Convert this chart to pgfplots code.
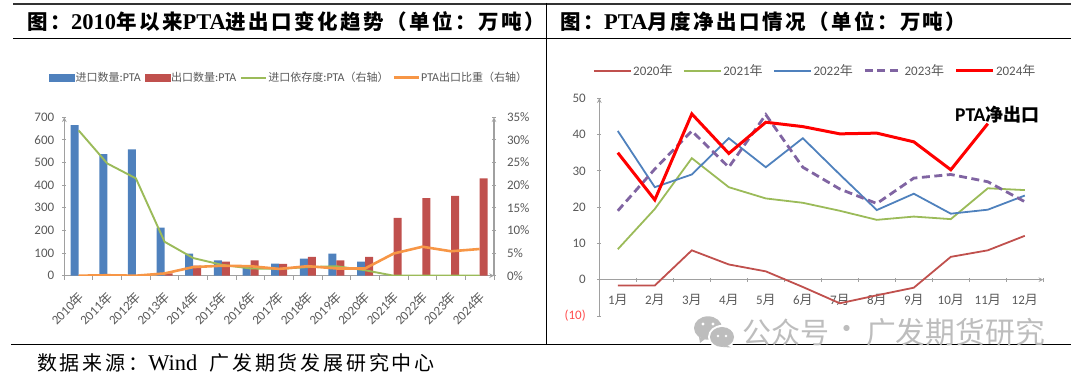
\documentclass[border=0pt]{standalone}
\usepackage{fontspec}
\usepackage{pgfplots}
\pgfplotsset{compat=1.18}
\setmainfont{Carlito}
\newfontfamily\cjk{Noto Sans CJK SC}
\newfontfamily\cjkt[LetterSpace=12]{Noto Sans CJK SC}
\newfontfamily\cjks[LetterSpace=14]{Noto Sans CJK SC}
\newfontfamily\ser{Liberation Serif}
\definecolor{cb}{HTML}{4F81BD}
\definecolor{cr}{HTML}{C0504D}
\definecolor{cg}{HTML}{9BBB59}
\definecolor{co}{HTML}{F79646}
\definecolor{cp}{HTML}{8064A2}
\definecolor{txt}{HTML}{595959}
\definecolor{axc}{HTML}{A0A0A0}
\definecolor{wm}{HTML}{BDBDBD}
\newcommand{\Y}{{\cjk 年}}
\newcommand{\M}{{\cjk 月}}
\newcommand{\LC}[1]{{\cjk\fontsize{11}{11}\selectfont #1}}
\pgfplotstableread{
x imp exp dep share
0 665 0 32.1 0
1 537 0 24.8 0.1
2 558 0 21.5 0
3 212 10 7.5 0.5
4 97 45 3.9 1.9
5 68 62 2.4 2.2
6 40 68 1.6 2.1
7 53 52 1.5 1.5
8 75 83 1.9 2.1
9 97 68 2.1 1.6
10 62 83 1.2 1.6
11 0 256 0 4.9
12 0 343 0 6.4
13 0 353 0 5.4
14 0 430 0 5.9
}\annual
\pgfplotstableread{
m a b c d e
1 -1.6 8.4 41 19 35
2 -1.6 19.5 25.5 30.5 22
3 8.1 33.5 29 41 45.7
4 4.2 25.5 39 31 34.8
5 2.3 22.4 31 45.5 43.4
6 -2 21.2 39 31 42.2
7 -6.5 19 29 25 40.2
8 -4.3 16.5 19.2 21 40.4
9 -2.2 17.4 23.7 28 38
10 6.3 16.7 18.2 29 30.3
11 8.1 25.2 19.3 27 43
12 12.1 24.7 23.2 21.5 nan
}\monthly
\pgfplotsset{
 base/.style={
  scale only axis, anchor=south west,
  /pgf/number format/assume math mode=true,
  axis line style={draw=axc,line width=1.1pt,-},
  tick style={draw=axc,line width=0.9pt},
  tick align=outside, major tick length=4pt, minor tick length=4pt,
  tick label style={font=\fontsize{13}{13}\selectfont,text=txt},
  legend cell align=left,
 },
}
\begin{document}
\begin{tikzpicture}[x=1pt,y=1pt]
\path[use as bounding box] (0,0) rectangle (1080,377);
% left chart
\begin{axis}[base, at={(64.3pt,101.3pt)}, width=429.7pt, height=158.4pt,
  xmin=-0.5, xmax=14.5, ymin=0, ymax=700,
  axis y line=left, axis x line=bottom,
  ytick={0,100,...,700},
  y tick label style={xshift=-4.5pt},
  xtick={0,...,14},
  xticklabels={2010\Y,2011\Y,2012\Y,2013\Y,2014\Y,2015\Y,2016\Y,2017\Y,2018\Y,2019\Y,2020\Y,2021\Y,2022\Y,2023\Y,2024\Y},
  minor xtick={-0.5,0.5,...,14.5},
  major x tick style={draw=none},
  x tick label style={rotate=45,anchor=north east,inner sep=0pt,xshift=-8.5pt,yshift=-6pt,font=\fontsize{13}{13}\selectfont},
  ybar, /pgf/bar width=8pt]
\addplot[fill=cb,draw=none,bar shift=-4pt] table[x=x,y=imp]{\annual};
\addplot[fill=cr,draw=none,bar shift=4pt] table[x=x,y=exp]{\annual};
\end{axis}
\begin{axis}[base, legend image code/.code={\draw[#1] (0pt,0pt) -- (25pt,0pt);},
  at={(64.3pt,101.3pt)}, width=429.7pt, height=158.4pt,
  xmin=-0.5, xmax=14.5, ymin=0, ymax=35,
  axis y line=right, axis x line=none,
  ytick={0,5,...,35},
  y tick label style={xshift=7.5pt},
  yticklabels={0\%,5\%,10\%,15\%,20\%,25\%,30\%,35\%},
  legend columns=-1,
  legend style={at={(-0.0356,1.25)},anchor=west,draw=none,fill=none,inner sep=0pt,
    font=\fontsize{12}{12}\selectfont,text=txt,
    /tikz/every even column/.append style={column sep=3pt},
    nodes={inner sep=1pt}}]
\addlegendimage{legend image code/.code={\fill[cb] (0pt,-3.3pt) rectangle (25pt,3.3pt);}}
\addlegendentry{\LC{进口数量}:PTA}
\addlegendimage{legend image code/.code={\fill[cr] (0pt,-3.3pt) rectangle (25pt,3.3pt);}}
\addlegendentry{\LC{出口数量}:PTA}
\addplot[cg,line width=1.9pt] table[x=x,y=dep]{\annual};
\addlegendentry{\LC{进口依存度}:PTA\LC{（右轴）}}
\addplot[co,line width=2.6pt] table[x=x,y=share]{\annual};
\addlegendentry{PTA\LC{出口比重（右轴）}}
\end{axis}
% right chart
\begin{axis}[base, legend image code/.code={\draw[#1] (0pt,0pt) -- (37pt,0pt);},
  at={(599.3pt,61pt)}, width=444pt, height=217.7pt,
  xmin=0.5, xmax=12.5, ymin=-10, ymax=50,
  axis y line=left, axis x line=middle,
  hide obscured y ticks=false, hide obscured x ticks=false,
  ytick={-10,0,...,50},
  y tick label style={xshift=-8pt},
  yticklabels={\textcolor{red!70!white}{(10)},0,10,20,30,40,50},
  xtick={1,...,12},
  xticklabels={1\M,2\M,3\M,4\M,5\M,6\M,7\M,8\M,9\M,10\M,11\M,12\M},
  minor xtick={0.5,1.5,...,12.5},
  major x tick style={draw=none},
  x tick label style={anchor=center,yshift=-18pt},
  clip=false,
  legend columns=-1,
  legend style={at={(-0.0149,1.1268)},anchor=west,draw=none,fill=none,inner sep=0pt,
    font=\fontsize{13}{13}\selectfont,text=txt,
    /tikz/every even column/.append style={column sep=9pt},
    nodes={inner sep=1.5pt}}]
\addplot[cr,line width=1.8pt] table[x=m,y=a]{\monthly};
\addlegendentry{2020\Y}
\addplot[cg,line width=1.8pt] table[x=m,y=b]{\monthly};
\addlegendentry{2021\Y}
\addplot[cb,line width=1.8pt] table[x=m,y=c]{\monthly};
\addlegendentry{2022\Y}
\addplot[cp,line width=2.8pt,dash pattern=on 8pt off 4.5pt] table[x=m,y=d]{\monthly};
\addlegendentry{2023\Y}
\addplot[red,line width=3pt,line join=miter] table[x=m,y=e]{\monthly};
\addlegendentry{2024\Y}
\end{axis}
% frame
\draw[line width=2pt,black!80] (13,373.3) -- (1071,373.3);
\draw[line width=1.3pt,black] (13,338.7) -- (1071,338.7);
\draw[line width=1.3pt,black] (11,32.7) -- (1071,32.7);
\draw[line width=1.3pt,black] (546.7,374) -- (546.7,32.7);
% titles
\node[anchor=west,inner sep=0pt] at (27.5,355) {\cjkt\bfseries\fontsize{20.5}{20.5}\selectfont 图：{\ser\bfseries\fontsize{22.5}{22.5}\selectfont 2010}年以来{\ser\bfseries\fontsize{22.5}{22.5}\selectfont PTA}进出口变化趋势（单位：万吨）};
\node[anchor=west,inner sep=0pt] at (560.5,355) {\cjkt\bfseries\fontsize{20.5}{20.5}\selectfont 图：{\ser\bfseries\fontsize{22.5}{22.5}\selectfont PTA}月度净出口情况（单位：万吨）};
\node[anchor=west,inner sep=0pt] at (37,14.3) {\cjks\fontsize{20}{20}\selectfont 数据来源：{\ser\fontsize{22.5}{22.5}\selectfont Wind}\hspace{12pt}广发期货发展研究中心};
\node[anchor=west,inner sep=0pt] at (955,262) {\cjk\bfseries\fontsize{18}{18}\selectfont{\fontspec{Carlito}\bfseries\fontsize{19.5}{19.5}\selectfont PTA}净出口};
% watermark
\fill[wm] (708,49) ellipse (14pt and 11.7pt);
\fill[wm] (699,40) -- (705,38) -- (700,34) -- cycle;
\fill[white] (722,40) ellipse (14pt and 12pt);
\fill[wm] (722,40) ellipse (12pt and 10pt);
\fill[wm] (726,32) -- (731,29.5) -- (723,30) -- cycle;
\fill[white] (703,53) circle (1.6pt) (713,53) circle (1.6pt) (718,41) circle (1.4pt) (726,41) circle (1.4pt);
\node[anchor=west,inner sep=0pt,text=wm] at (742.5,45) {\cjk\fontsize{29}{29}\selectfont 公众号};
\node[anchor=center,inner sep=0pt,text=wm] at (847,45) {\cjk\fontsize{29}{29}\selectfont ·};
\node[anchor=east,inner sep=0pt,text=wm] at (1045,45) {\cjk\fontsize{29.8}{29.8}\selectfont 广发期货研究};
\end{tikzpicture}
\end{document}
